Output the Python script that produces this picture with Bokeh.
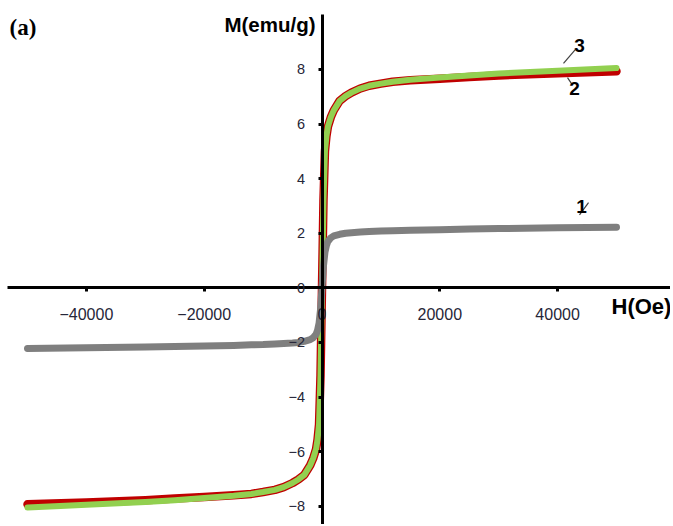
from bokeh.plotting import figure
from bokeh.models import Range1d, FixedTicker, Label
from bokeh.embed import file_html
from bokeh.resources import INLINE

# ---- data ----
field_oe = [-50000, -40000, -30000, -25000, -20000, -15000, -12000, -10000, -8000, -6500,
            -5000, -4000, -3000, -2000, -1500, -1000, -750, -500, -250, 0,
            250, 500, 750, 1000, 1500, 2000, 3000, 4000, 5000, 6500,
            8000, 10000, 12000, 15000, 20000, 25000, 30000, 40000, 50000]
m_sample1 = [-2.22, -2.2, -2.17, -2.15, -2.13, -2.11, -2.09, -2.08, -2.06, -2.04,
             -2.02, -2.0, -1.96, -1.9, -1.83, -1.7, -1.55, -1.3, -0.8, 0,
             0.8, 1.3, 1.55, 1.7, 1.83, 1.9, 1.96, 2.0, 2.02, 2.04,
             2.06, 2.08, 2.09, 2.11, 2.13, 2.15, 2.17, 2.2, 2.22]
m_sample2 = [-7.93, -7.86, -7.78, -7.72, -7.66, -7.6, -7.55, -7.48, -7.4, -7.3,
             -7.15, -7.02, -6.85, -6.5, -6.25, -5.9, -5.55, -5.0, -3.2, 0,
             3.2, 5.0, 5.55, 5.9, 6.25, 6.5, 6.85, 7.02, 7.15, 7.3,
             7.4, 7.48, 7.55, 7.6, 7.66, 7.72, 7.78, 7.86, 7.93]
m_sample3 = [-8.05, -7.95, -7.85, -7.78, -7.7, -7.62, -7.55, -7.48, -7.4, -7.3,
             -7.15, -7.02, -6.85, -6.5, -6.25, -5.9, -5.55, -5.0, -3.2, 0,
             3.2, 5.0, 5.55, 5.9, 6.25, 6.5, 6.85, 7.02, 7.15, 7.3,
             7.4, 7.48, 7.55, 7.62, 7.7, 7.78, 7.85, 7.95, 8.05]
x_ticks = [-40000, -20000, 0, 20000, 40000]
y_ticks = [-8, -6, -4, -2, 0, 2, 4, 6, 8]

X0, X1 = -54584, 59168
Y0, Y1 = -8.67, 10.524

p = figure(width=670, height=524, x_range=Range1d(X0, X1), y_range=Range1d(Y0, Y1),
           output_backend="svg", toolbar_location=None, min_border=0,
           outline_line_color=None)
p.grid.visible = False
p.background_fill_color = "white"

# axes crossing at the origin
for ax in (p.xaxis[0], p.yaxis[0]):
    ax.fixed_location = 0
    ax.axis_line_width = 3
    ax.axis_line_color = "black"
    ax.major_tick_line_width = 3
    ax.major_tick_line_color = "black"
    ax.major_tick_in = 0
    ax.major_tick_out = 4
    ax.minor_tick_line_color = None
    ax.major_label_text_font = "Liberation Sans"
    ax.major_label_text_color = "#262638"

p.xaxis.ticker = FixedTicker(ticks=x_ticks)
p.yaxis.ticker = FixedTicker(ticks=y_ticks)
p.xaxis.major_label_text_font_size = "16px"
p.yaxis.major_label_text_font_size = "14.5px"
p.xaxis.major_label_standoff = 16
p.yaxis.major_label_standoff = 13
p.yaxis.bounds = (Y0, 10)
p.xaxis.bounds = (-53400, X1)

# curves
p.line(field_oe, m_sample2, line_color="#C00000", line_width=8.5, line_cap="round", line_join="round")
p.line(field_oe, m_sample3, line_color="#92D050", line_width=6, line_cap="round", line_join="round")
p.line(field_oe, m_sample1, line_color="#7F7F7F", line_width=7, line_cap="round", line_join="round")

# curve label leaders
p.segment(x0=[41000, 41680, 43720], y0=[8.22, 7.70, 2.67],
          x1=[43040, 42360, 45250], y1=[8.73, 7.48, 3.12],
          line_color="#404040", line_width=1.2)

def lab(x, y, t, size, align="center", font="Liberation Sans", style="bold"):
    p.add_layout(Label(x=x, y=y, text=t, text_font=font, text_font_style=style,
                       text_font_size=size, text_align=align, text_baseline="middle",
                       text_color="black"))

lab(43720, 8.87, "3", "19px")
lab(42870, 7.30, "2", "19px")
lab(44060, 2.98, "1", "19px")
lab(-1100, 9.64, "M(emu/g)", "20.5px", align="right")
lab(49150, -0.70, "H(Oe)", "22px", align="left")
lab(-53060, 9.53, "(a)", "23px", align="left", font="Liberation Serif")

open("out.html", "w").write(file_html(p, INLINE))
